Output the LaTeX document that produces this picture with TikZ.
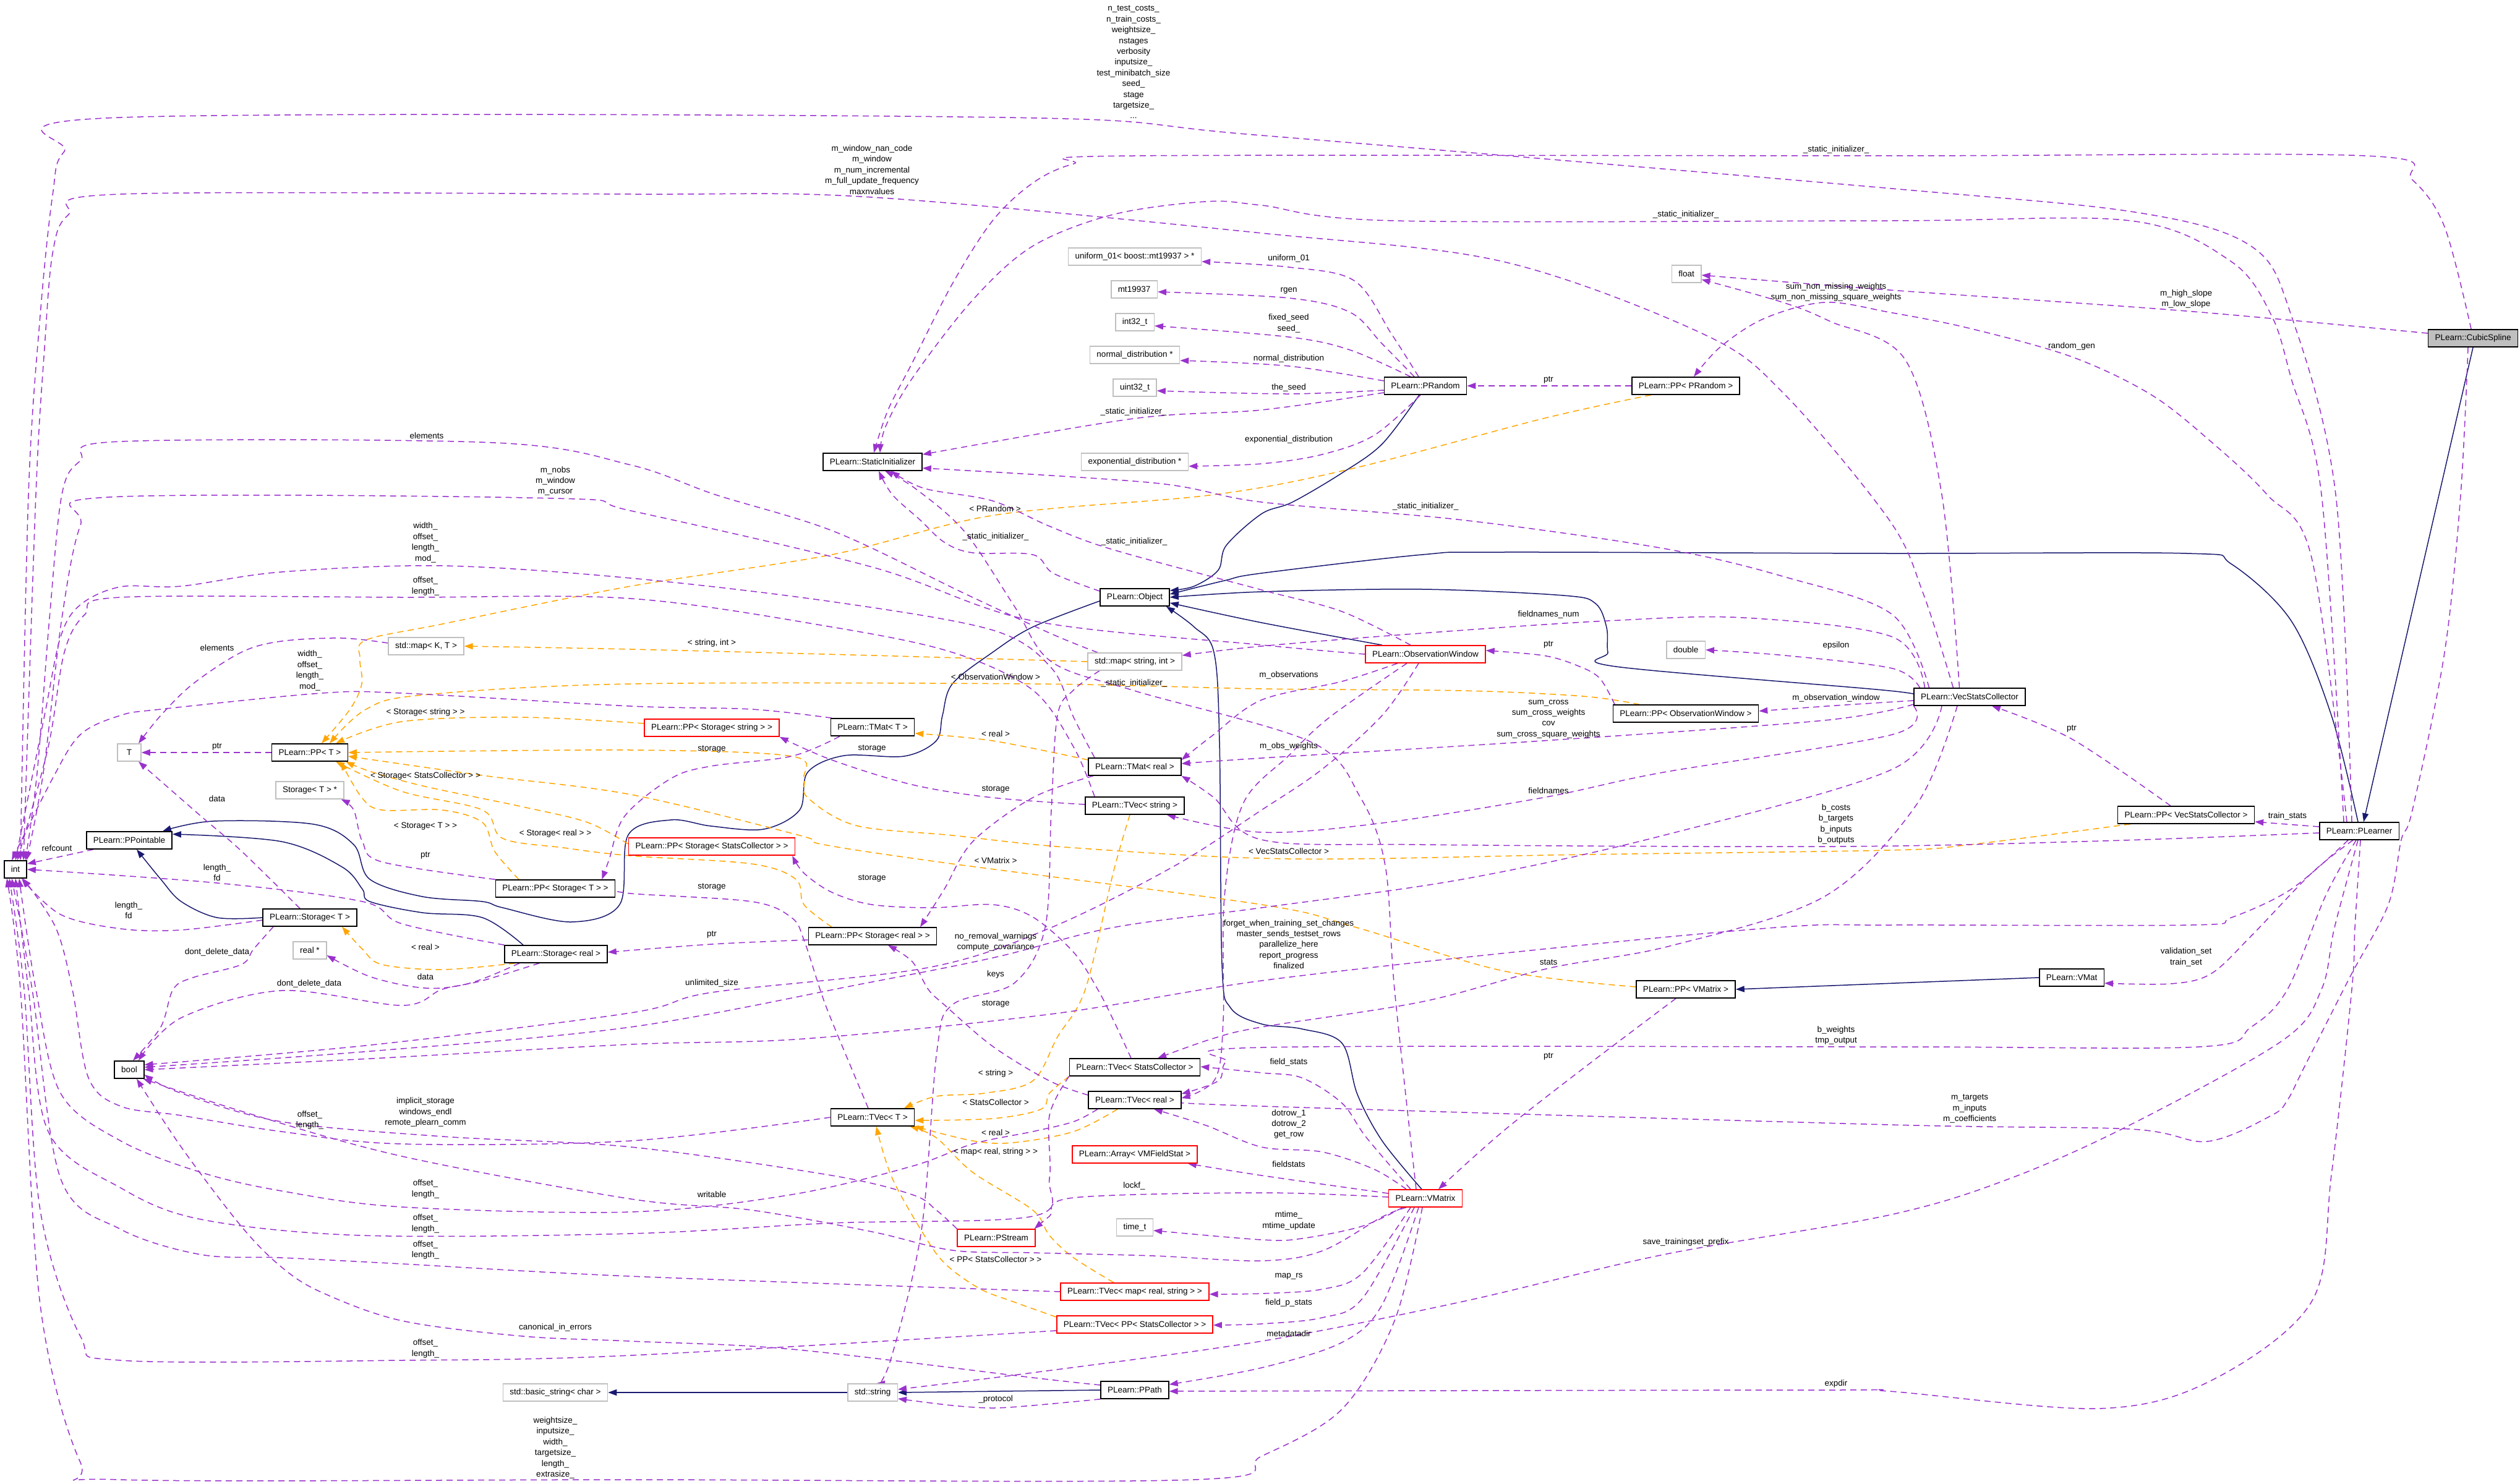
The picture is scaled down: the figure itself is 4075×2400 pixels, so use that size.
\documentclass[tikz,border=0pt]{standalone}
\usepackage{fontspec}
\setmainfont{Liberation Sans}
\usetikzlibrary{arrows.meta}
\pgfdeclarelayer{bg}
\pgfsetlayers{bg,main}
\definecolor{purp}{HTML}{9A32CD}
\definecolor{orng}{HTML}{FFA500}
\definecolor{navyb}{HTML}{191970}
\definecolor{greyb}{HTML}{BFBFBF}
\newcommand\dfont{\fontsize{13.5pt}{17.4pt}\selectfont}
\tikzset{
  cls/.style={draw=black,line width=1.5pt,fill=white,inner xsep=11pt,inner ysep=0pt,minimum height=28pt,font=\dfont},
  ext/.style={cls,draw=greyb},
  trunc/.style={cls,draw=red},
  root/.style={cls,fill=greyb},
  lbl/.style={inner sep=0pt,align=center,font=\dfont},
  mem/.style={draw=purp,line width=1.5pt,line join=round,dash pattern=on 10pt off 7pt,-{Triangle[length=14pt,width=10pt]}},
  tmpl/.style={mem,draw=orng},
  inh/.style={draw=navyb,line width=1.5pt,line join=round,-{Triangle[length=14pt,width=10pt]}},
  sm/.style={smooth,tension=0.55}
}
\begin{document}
\begin{tikzpicture}[x=1pt,y=-1pt]
\useasboundingbox (0,0) rectangle (4075,2400);
% ---------------- nodes
\node[root] (CubicSpline) at (3999,547) {PLearn::CubicSpline};
\node[cls] (PLearner) at (3815,1344) {PLearn::PLearner};
\node[ext] (float) at (2727,443) {float};
\node[cls] (PRandom) at (2305,624) {PLearn::PRandom};
\node[cls] (PPRandom) at (2726,624) {PLearn::PP< PRandom >};
\node[ext] (uniform) at (1835,415) {uniform\_01< boost::mt19937 > *};
\node[ext] (mt) at (1834,468) {mt19937};
\node[ext] (int32) at (1835,521) {int32\_t};
\node[ext] (normal) at (1835,574) {normal\_distribution *};
\node[ext] (uint32) at (1835,627) {uint32\_t};
\node[ext] (expo) at (1835,747) {exponential\_distribution *};
\node[cls] (SI) at (1411,747) {PLearn::StaticInitializer};
\node[cls] (Object) at (1835,966) {PLearn::Object};
\node[ext] (mapsi) at (1835,1070) {std::map< string, int >};
\node[trunc] (ObsWin) at (2305,1058) {PLearn::ObservationWindow};
\node[ext] (double) at (2726,1051) {double};
\node[cls] (PPObsWin) at (2726,1154) {PLearn::PP< ObservationWindow >};
\node[cls] (VSC) at (3185,1127) {PLearn::VecStatsCollector};
\node[cls] (PPVSC) at (3535,1318) {PLearn::PP< VecStatsCollector >};
\node[cls] (VMat) at (3350,1581) {PLearn::VMat};
\node[cls] (PPVMatrix) at (2726,1600) {PLearn::PP< VMatrix >};
\node[trunc] (VMatrix) at (2305,1938) {PLearn::VMatrix};
\node[cls] (TMatT) at (1411,1176) {PLearn::TMat< T >};
\node[cls] (TMatReal) at (1835,1240) {PLearn::TMat< real >};
\node[cls] (TVecString) at (1835,1303) {PLearn::TVec< string >};
\node[trunc] (PPSS) at (1151,1177) {PLearn::PP< Storage< string > >};
\node[trunc] (PPSSC) at (1151,1369) {PLearn::PP< Storage< StatsCollector > >};
\node[cls] (PPSR) at (1411,1514) {PLearn::PP< Storage< real > >};
\node[cls] (TVecSC) at (1835,1726) {PLearn::TVec< StatsCollector >};
\node[cls] (TVecReal) at (1835,1779) {PLearn::TVec< real >};
\node[cls] (TVecT) at (1411,1807) {PLearn::TVec< T >};
\node[trunc] (ArrayVMF) at (1835,1867) {PLearn::Array< VMFieldStat >};
\node[ext] (timet) at (1835,1985) {time\_t};
\node[trunc] (PStream) at (1611,2002) {PLearn::PStream};
\node[trunc] (TVecMap) at (1835,2089) {PLearn::TVec< map< real, string > >};
\node[trunc] (TVecPPSC) at (1835,2142) {PLearn::TVec< PP< StatsCollector > >};
\node[ext] (stdstring) at (1411,2252) {std::string};
\node[cls] (PPath) at (1835,2248) {PLearn::PPath};
\node[ext] (basicstring) at (898,2252) {std::basic\_string< char >};
\node[cls] (int) at (25,1406) {int};
\node[ext,minimum width=38pt] (T) at (209,1217) {T};
\node[cls] (PPT) at (501,1217) {PLearn::PP< T >};
\node[ext] (StorageTptr) at (501,1278) {Storage< T > *};
\node[cls] (PPointable) at (209,1359) {PLearn::PPointable};
\node[cls] (StorageT) at (501,1484) {PLearn::Storage< T >};
\node[ext] (realptr) at (501,1537) {real *};
\node[cls] (StorageReal) at (899,1543) {PLearn::Storage< real >};
\node[cls] (PPST) at (898,1437) {PLearn::PP< Storage< T > >};
\node[ext] (mapKT) at (689,1045) {std::map< K, T >};
\node[cls] (bool) at (209,1730) {bool};
% ---------------- labels
\node[lbl] (l1) at (1833,100.5) {n\_test\_costs\_\\n\_train\_costs\_\\weightsize\_\\nstages\\verbosity\\inputsize\_\\test\_minibatch\_size\\seed\_\\stage\\targetsize\_\\...};
\node[lbl] (l2) at (1410,274.5) {m\_window\_nan\_code\\m\_window\\m\_num\_incremental\\m\_full\_update\_frequency\\maxnvalues};
\node[lbl] (l3) at (2969,242) {\_static\_initializer\_};
\node[lbl] (l4) at (2726,347) {\_static\_initializer\_};
\node[lbl] (l5) at (2084,418) {uniform\_01};
\node[lbl] (l6) at (2084,470) {rgen};
\node[lbl] (l7) at (2084,523) {fixed\_seed\\seed\_};
\node[lbl] (l8) at (2084,580) {normal\_distribution};
\node[lbl] (l9) at (2084,627) {the\_seed};
\node[lbl] (l10) at (1833,666) {\_static\_initializer\_};
\node[lbl] (l11) at (2084,711) {exponential\_distribution};
\node[lbl] (l12) at (2504,615) {ptr};
\node[lbl] (l13) at (3535,483.5) {m\_high\_slope\\m\_low\_slope};
\node[lbl] (l14) at (2969,472.5) {sum\_non\_missing\_weights\\sum\_non\_missing\_square\_weights};
\node[lbl] (l15) at (3350,560) {random\_gen};
\node[lbl] (l16) at (690,705) {elements};
\node[lbl] (l17) at (898,778) {m\_nobs\\m\_window\\m\_cursor};
\node[lbl] (l18) at (1609,823) {< PRandom >};
\node[lbl] (l19) at (1610,868) {\_static\_initializer\_};
\node[lbl] (l20) at (1834,876) {\_static\_initializer\_};
\node[lbl] (l21) at (2305,819) {\_static\_initializer\_};
\node[lbl] (l22) at (688,877.5) {width\_\\offset\_\\length\_\\mod\_};
\node[lbl] (l23) at (688,948) {offset\_\\length\_};
\node[lbl] (l24) at (2504,994) {fieldnames\_num};
\node[lbl] (l25) at (1151,1040) {< string, int >};
\node[lbl] (l26) at (2504,1043) {ptr};
\node[lbl] (l27) at (2969,1044) {epsilon};
\node[lbl] (l28) at (351,1048) {elements};
\node[lbl] (l29) at (501,1084.5) {width\_\\offset\_\\length\_\\mod\_};
\node[lbl] (l30) at (2084,1092) {m\_observations};
\node[lbl] (l31) at (1610,1095) {< ObservationWindow >};
\node[lbl] (l32) at (1834,1105) {\_static\_initializer\_};
\node[lbl] (l33) at (2969,1129) {m\_observation\_window};
\node[lbl] (l34) at (2504,1163) {sum\_cross\\sum\_cross\_weights\\cov\\sum\_cross\_square\_weights};
\node[lbl] (l35) at (688,1152) {< Storage< string > >};
\node[lbl] (l36) at (3350,1179) {ptr};
\node[lbl] (l37) at (1610,1187) {< real >};
\node[lbl] (l38) at (2084,1207) {m\_obs\_weights};
\node[lbl] (l39) at (351,1208) {ptr};
\node[lbl] (l40) at (1151,1212) {storage};
\node[lbl] (l41) at (1410,1211) {storage};
\node[lbl] (l42) at (688,1255) {< Storage< StatsCollector > >};
\node[lbl] (l43) at (1610,1277) {storage};
\node[lbl] (l44) at (2504,1279) {fieldnames};
\node[lbl] (l45) at (351,1292) {data};
\node[lbl] (l46) at (2969,1333) {b\_costs\\b\_targets\\b\_inputs\\b\_outputs};
\node[lbl] (l47) at (3699,1320) {train\_stats};
\node[lbl] (l48) at (688,1336) {< Storage< T > >};
\node[lbl] (l49) at (898,1348) {< Storage< real > >};
\node[lbl] (l50) at (92,1372) {refcount};
\node[lbl] (l51) at (2084,1377) {< VecStatsCollector >};
\node[lbl] (l52) at (688,1384) {ptr};
\node[lbl] (l53) at (1610,1392) {< VMatrix >};
\node[lbl] (l54) at (351,1411) {length\_\\fd};
\node[lbl] (l55) at (1410,1421) {storage};
\node[lbl] (l56) at (1151,1435) {storage};
\node[lbl] (l57) at (208,1472) {length\_\\fd};
\node[lbl] (l58) at (2084,1527) {forget\_when\_training\_set\_changes\\master\_sends\_testset\_rows\\parallelize\_here\\report\_progress\\finalized};
\node[lbl] (l59) at (1151,1512) {ptr};
\node[lbl] (l60) at (1610,1523.5) {no\_removal\_warnings\\compute\_covariance};
\node[lbl] (l61) at (688,1532) {< real >};
\node[lbl] (l62) at (351,1540) {dont\_delete\_data};
\node[lbl] (l63) at (3535,1548) {validation\_set\\train\_set};
\node[lbl] (l64) at (2504,1556) {stats};
\node[lbl] (l65) at (1610,1576) {keys};
\node[lbl] (l66) at (688,1580) {data};
\node[lbl] (l67) at (1151,1590) {unlimited\_size};
\node[lbl] (l68) at (500,1591) {dont\_delete\_data};
\node[lbl] (l69) at (1610,1624) {storage};
\node[lbl] (l70) at (2969,1674.5) {b\_weights\\tmp\_output};
\node[lbl] (l71) at (2504,1709) {ptr};
\node[lbl] (l72) at (2084,1718) {field\_stats};
\node[lbl] (l73) at (1610,1736) {< string >};
\node[lbl] (l74) at (3185,1793) {m\_targets\\m\_inputs\\m\_coefficients};
\node[lbl] (l75) at (1610,1783) {< StatsCollector >};
\node[lbl] (l76) at (688,1798.5) {implicit\_storage\\windows\_endl\\remote\_plearn\_comm};
\node[lbl] (l77) at (501,1811.5) {offset\_\\length\_};
\node[lbl] (l78) at (2084,1818) {dotrow\_1\\dotrow\_2\\get\_row};
\node[lbl] (l79) at (1610,1832) {< real >};
\node[lbl] (l80) at (1610,1863) {< map< real, string > >};
\node[lbl] (l81) at (2084,1883) {fieldstats};
\node[lbl] (l82) at (688,1923) {offset\_\\length\_};
\node[lbl] (l83) at (1834,1918) {lockf\_};
\node[lbl] (l84) at (1151,1932) {writable};
\node[lbl] (l85) at (2084,1974) {mtime\_\\mtime\_update};
\node[lbl] (l86) at (688,1979) {offset\_\\length\_};
\node[lbl] (l87) at (2726,2009) {save\_trainingset\_prefix};
\node[lbl] (l88) at (688,2021.5) {offset\_\\length\_};
\node[lbl] (l89) at (1610,2037) {< PP< StatsCollector > >};
\node[lbl] (l90) at (2084,2064) {map\_rs};
\node[lbl] (l91) at (2084,2107) {field\_p\_stats};
\node[lbl] (l92) at (898,2147) {canonical\_in\_errors};
\node[lbl] (l93) at (2084,2157) {metadatadir};
\node[lbl] (l94) at (688,2181) {offset\_\\length\_};
\node[lbl] (l95) at (2969,2238) {expdir};
\node[lbl] (l96) at (1610,2263) {\_protocol};
\node[lbl] (l97) at (898,2341.5) {weightsize\_\\inputsize\_\\width\_\\targetsize\_\\length\_\\extrasize\_};
% ---------------- edges
\begin{pgfonlayer}{bg}
% inheritance
\draw[inh] (CubicSpline.south) -- ([xshift=7pt]PLearner.north);
\draw[inh] plot[sm] coordinates {([xshift=-2pt]PLearner.north) (3770,1157) (3705,1004) (3608,912) (3536,895) (3055,895) (2430,893) (2300,897) (2040,927) (1980,939) ([yshift=5pt]Object.east)};
\draw[inh] plot[sm] coordinates {(VSC.west) (3055,1117) (2613,1078) (2600,1055) (2598,1015) (2580,976) (2528,963) (2300,953) (2040,957) (Object.east)};
\draw[inh] plot[sm] coordinates {([xshift=-70pt]ObsWin.north) (2040,1007) ([yshift=-9pt]Object.east)};
\draw[inh] plot[sm] coordinates {([xshift=-10pt]PRandom.south) (2235,718) (2170,765) (2090,812) (2040,831) (1983,882) (1970,922) (1931,948) ([yshift=11pt]Object.east)};
\draw[inh] plot[sm] coordinates {([xshift=-6pt]VMatrix.north) (2235,1845) (2195,1770) (2170,1687) (2105,1664) (2040,1656) (1990,1630) (1976,1560) (1972,1200) (1963,1055) (1931,1014) ([xshift=-6pt]Object.south east)};
\draw[inh] plot[sm] coordinates {([yshift=-6pt]Object.west) (1670,1014) (1605,1055) (1540,1106) (1524,1157) (1514,1198) (1462,1223) (1365,1222) (1306,1249) (1293,1310) (1235,1341) (1150,1336) (1085,1326) (1016,1350) (1002,1463) (924,1491) (813,1468) (780,1458) (683,1450) (598,1422) (572,1366) (507,1333) (345,1328) ([xshift=-16pt]PPointable.north east)};
\draw[inh] plot[sm] coordinates {([xshift=-53pt]StorageReal.north) (780,1484) (683,1476) (598,1458) (586,1438) (553,1402) (455,1361) ([yshift=10pt]PPointable.east)};
\draw[inh] plot[sm] coordinates {(StorageT.west) (351,1484) (293,1458) (260,1422) ([xshift=12pt]PPointable.south)};
\draw[inh] (stdstring.west) -- (basicstring.east);
\draw[inh] (PPath.west) -- (stdstring.east);
\draw[inh] (VMat.west) -- (PPVMatrix.east);
% templates
\draw[tmpl] plot[sm] coordinates {([xshift=-56pt]PPRandom.south) (2495,677) (2190,757) (1963,800) (1609,833) (1345,897) (1020,948) (716,1009) (592,1035) (582,1065) (585,1106) (566,1147) ([xshift=19pt]PPT.north)};
\draw[tmpl] plot[sm] coordinates {(mapsi.west) (1410,1060) (1020,1050) (mapKT.east)};
\draw[tmpl] plot[sm] coordinates {([xshift=-75pt]PPObsWin.north) (2560,1126) (2365,1117) (2040,1114) (1670,1106) (1020,1106) (683,1124) (592,1147) ([xshift=32pt]PPT.north)};
\draw[tmpl] plot[sm] coordinates {([yshift=7pt]PPSS.west) (846,1160) (650,1167) ([xshift=42pt]PPT.north)};
\draw[tmpl] plot[sm] coordinates {([yshift=4pt]PPSSC.west) (950,1330) (846,1305) (688,1272) (600,1248) ([xshift=-4pt]PPT.south east)};
\draw[tmpl] plot[sm] coordinates {([xshift=-59pt]PPST.north) (800,1377) (780,1330) (715,1310) (618,1310) (585,1290) ([xshift=-12pt]PPT.south east)};
\draw[tmpl] plot[sm] coordinates {([xshift=-66pt]PPSR.north) (1300,1463) (1287,1422) (1215,1397) (1020,1384) (911,1371) (813,1356) (780,1310) (650,1280) ([xshift=-20pt]PPT.south east)};
\draw[tmpl] plot[sm] coordinates {([xshift=-90pt]PPVSC.south) (3185,1366) (3055,1375) (2560,1382) (2084,1389) (1735,1371) (1540,1351) (1384,1335) (1306,1290) (1300,1259) (1280,1223) (1020,1213) (PPT.east)};
\draw[tmpl] plot[sm] coordinates {([yshift=4pt]PPVMatrix.west) (2430,1570) (2190,1499) (2040,1463) (1540,1397) (1332,1366) (1293,1351) (1020,1285) (780,1254) ([yshift=-6pt]PPT.east)};
\draw[tmpl] plot[sm] coordinates {([yshift=11pt]TMatReal.west) (1605,1198) ([yshift=-10pt]TMatT.east)};
\draw[tmpl] plot[sm] coordinates {([xshift=-8pt]TVecString.south) (1800,1412) (1755,1600) (1710,1677) (1670,1748) (1592,1768) (1514,1773) ([xshift=51pt]TVecT.north)};
\draw[tmpl] plot[sm] coordinates {(TVecSC.south west) (1697,1768) (1683,1794) (1605,1809) ([yshift=-5pt]TVecT.east)};
\draw[tmpl] plot[sm] coordinates {([xshift=-28pt]TVecReal.south) (1736,1830) (1638,1848) (1573,1845) (TVecT.south east)};
\draw[tmpl] plot[sm] coordinates {([xshift=-34pt]TVecMap.north) (1736,2034) (1697,1998) (1670,1957) (1573,1896) (1514,1840) ([xshift=-8pt]TVecT.south east)};
\draw[tmpl] plot[sm] coordinates {([yshift=12pt]TVecPPSC.west) (1638,2105) (1586,2085) (1534,2049) (1501,2008) (1443,1906) ([xshift=6pt]TVecT.south)};
\draw[tmpl] plot[sm] coordinates {([xshift=-66pt]StorageReal.south) (716,1568) (618,1560) (586,1535) ([xshift=52pt]StorageT.south)};
% members
\draw[mem] plot[sm] coordinates {([xshift=-12pt]PLearner.north) (3777,800) (3705,510) (3640,398) (3458,344) (3060,305) (2040,219) (1625,190) (195,190) (104,245) (85,316) (65,510) (46,800) ([xshift=8pt]int.north)};
\draw[mem] plot[sm] coordinates {([xshift=64pt]VSC.north west) (3110,960) (3055,841) (2886,638) (2756,541) (2430,423) (2040,377) (1410,319) (1020,314) (195,314) (110,348) (85,410) (72,563) (58,800) ([xshift=13pt]int.north)};
\draw[mem] plot[sm] coordinates {([xshift=-3pt]CubicSpline.north) (3953,367) (3901,291) (3826,252) (3055,252) (1833,252) (1736,265) (1670,296) (1605,357) (1540,459) (1475,587) (1436,663) ([xshift=2pt]SI.north)};
\draw[mem] plot[sm] coordinates {([xshift=-25pt]PLearner.north) (3754,800) (3705,612) (3673,510) (3608,423) (3445,357) (3055,357) (2255,357) (2040,332) (1950,326) (1800,347) (1670,398) (1573,485) (1475,612) (1432,690) ([xshift=12pt]SI.north)};
\draw[mem] plot[sm] coordinates {([xshift=-11pt]PRandom.north) (2250,540) (2190,454) (2084,432) ([yshift=-8pt]uniform.east)};
\draw[mem] plot[sm] coordinates {([xshift=-18pt]PRandom.north) (2235,556) (2183,505) (2084,482) ([yshift=-4pt]mt.east)};
\draw[mem] plot[sm] coordinates {([xshift=-24pt]PRandom.north) (2183,566) (2084,545) ([yshift=-6pt]int32.east)};
\draw[mem] plot[sm] coordinates {([yshift=8pt]PRandom.west) (2084,592) ([yshift=-9pt]normal.east)};
\draw[mem] plot[sm] coordinates {([yshift=-7pt]PRandom.west) (2084,637) ([yshift=-5pt]uint32.east)};
\draw[mem] plot[sm] coordinates {([yshift=-11pt]PRandom.west) (2040,663) (1833,677) ([yshift=12pt]SI.east)};
\draw[mem] plot[sm] coordinates {([xshift=-8pt]PRandom.south) (2222,704) (2138,735) (2040,750) ([yshift=-7pt]expo.east)};
\draw[mem] (PPRandom.west) -- (PRandom.east);
\draw[mem] plot[sm] coordinates {([yshift=8pt]CubicSpline.west) (3535,503) (3055,469) ([yshift=-2pt]float.east)};
\draw[mem] plot[sm] coordinates {([xshift=74pt]VSC.north west) (3140,800) (3081,582) (2960,520) (2886,490) ([yshift=-9pt]float.east)};
\draw[mem] plot[sm] coordinates {([xshift=-20pt]PLearner.north) (3738,902) (3666,800) (3575,714) (3478,638) (3350,577) (3185,531) (3055,505) (2951,489) (2853,515) (2782,561) ([xshift=13pt]PPRandom.north)};
\draw[mem] plot[sm] coordinates {([yshift=10pt]Object.west) (1703,927) (1670,897) (1573,894) (1527,877) (1488,841) (1443,800) ([xshift=10pt]SI.south)};
\draw[mem] plot[sm] coordinates {([xshift=-24pt]ObsWin.north) (2170,989) (2040,954) (1800,889) (1697,851) (1605,810) (1495,790) ([xshift=30pt]SI.south)};
\draw[mem] plot[sm] coordinates {([xshift=25pt]VSC.north west) (3060,994) (2886,933) (2690,887) (2365,841) (2040,812) (1866,781) ([yshift=-10pt]SI.east)};
\draw[mem] plot[sm] coordinates {([xshift=-15pt]VMatrix.north) (2255,1600) (2240,1400) (2200,1290) (2120,1200) (1834,1117) (1700,1070) (1640,980) (1560,860) (1480,790) ([xshift=20pt]SI.south)};
\draw[mem] plot[sm] coordinates {([xshift=18pt]VSC.north west) (3060,1030) (2820,999) (2600,1004) (2300,1024) (2040,1045) ([yshift=10pt]mapsi.east)};
\draw[mem] plot[sm] coordinates {([xshift=-115pt]PPObsWin.north) (2586,1096) (2547,1075) (2495,1060) ([yshift=6pt]ObsWin.east)};
\draw[mem] plot[sm] coordinates {([xshift=10pt]VSC.north west) (3060,1081) (2886,1060) (double.east)};
\draw[mem] plot[sm] coordinates {([yshift=-6pt]VSC.west) (2969,1141) ([yshift=4pt]PPObsWin.east)};
\draw[mem] plot[sm] coordinates {([yshift=-12pt]VSC.west) (2950,1165) (2495,1198) (2040,1226) ([yshift=5pt]TMatReal.east)};
\draw[mem] plot[sm] coordinates {([xshift=-45pt]ObsWin.south) (2170,1102) (2040,1132) (1960,1190) ([yshift=11pt]TMatReal.east)};
\draw[mem] plot[sm] coordinates {([xshift=-30pt]ObsWin.south) (2150,1160) (2084,1222) (2010,1300) (1980,1450) (1978,1650) (1965,1745) ([yshift=3pt]TVecReal.east)};
\draw[mem] plot[sm] coordinates {(VSC.south west) (3060,1188) (2690,1249) (2495,1290) (2235,1331) (2040,1346) ([xshift=-29pt]TVecString.south east)};
\draw[mem] plot[sm] coordinates {([yshift=-3pt]PLearner.west) (3400,1360) (2969,1369) (2300,1366) (2040,1358) (1963,1290) (TMatReal.south east)};
\draw[mem] plot[sm] coordinates {([xshift=-25pt]PPVSC.north) (3350,1195) ([xshift=36pt]VSC.south)};
\draw[mem] ([yshift=7pt]PLearner.west) -- ([yshift=-11pt]PPVSC.east);
\draw[mem] plot[sm] coordinates {([xshift=-10pt]PLearner.south) (3738,1412) (3640,1514) (3575,1575) (3510,1591) ([yshift=-9pt]VMat.east)};
\draw[mem] plot[sm] coordinates {([xshift=-18pt]PLearner.south) (3705,1438) (3608,1484) (3543,1496) (3055,1496) (2886,1499) (2495,1535) (2040,1586) (1700,1640) (1300,1680) (1020,1689) (600,1712) (bool.east)};
\draw[mem] plot[sm] coordinates {([xshift=-45pt]VSC.south) (3060,1244) (2690,1351) (2365,1422) (2040,1468) (1800,1500) (1610,1548) (1400,1590) (1020,1661) (600,1700) ([yshift=4pt]bool.east)};
\draw[mem] plot[sm] coordinates {([xshift=-11pt]ObsWin.south) (2235,1157) (2138,1244) (2040,1310) (1900,1400) (1700,1500) (1500,1565) (1151,1605) (1020,1638) (600,1690) ([yshift=8pt]bool.east)};
\draw[mem] plot[sm] coordinates {(PStream.north west) (1514,1957) (1475,1932) (1345,1901) (1020,1855) (716,1838) (455,1814) (293,1768) ([yshift=-8pt]bool.east)};
\draw[mem] plot[sm] coordinates {([xshift=-31pt]VMatrix.south) (2235,1968) (2138,2023) (2040,2039) (1866,2031) (1670,2026) (1540,2022) (1410,1992) (1215,1957) (1020,1939) (650,1870) (400,1800) ([xshift=-2pt]bool.south east)};
\draw[mem] plot[sm] coordinates {([yshift=8pt]PPath.west) (1670,2228) (1280,2182) (1020,2169) (846,2161) (650,2136) (520,2090) (455,2049) (390,1983) (293,1855) ([xshift=12pt]bool.south)};
\draw[mem] plot[sm] coordinates {([xshift=-59pt]StorageT.south) (410,1535) (390,1560) (312,1581) (280,1600) (260,1661) ([xshift=6pt]bool.north)};
\draw[mem] plot[sm] coordinates {([xshift=-27pt]StorageReal.south) (780,1586) (715,1600) (650,1626) (455,1602) (293,1646) ([xshift=15pt]bool.north)};
\draw[mem] plot[sm] coordinates {([xshift=-59pt]StorageReal.south) (760,1590) (688,1598) (600,1580) ([yshift=-8pt]realptr.east)};
\draw[mem] plot[sm] coordinates {(StorageReal.north west) (650,1494) (586,1458) (351,1428) (int.east)};
\draw[mem] plot[sm] coordinates {([yshift=-4pt]StorageT.west) (293,1504) (195,1502) (98,1479) ([xshift=10pt]int.south)};
\draw[mem] ([xshift=12pt]PPointable.south west) -- ([yshift=9pt]int.east);
\draw[mem] (PPT.west) -- (T.east);
\draw[mem] plot[sm] coordinates {([yshift=5pt]mapKT.west) (553,1032) (455,1037) (390,1055) (312,1106) (260,1157) ([xshift=15pt]T.north)};
\draw[mem] plot[sm] coordinates {([xshift=-16pt]StorageT.north) (390,1376) (325,1320) ([xshift=15pt]T.south)};
\draw[mem] plot[sm] coordinates {(PPST.north west) (618,1394) (586,1361) (572,1310) ([xshift=-5pt]StorageTptr.south east)};
\draw[mem] plot[sm] coordinates {([yshift=-6pt]PPSR.west) (1151,1527) ([yshift=3pt]StorageReal.east)};
\draw[mem] plot[sm] coordinates {([xshift=-60pt]mapsi.north) (1700,1025) (1560,960) (1350,860) (1157,800) (1020,752) (800,716) (195,714) (130,745) (100,800) (80,1000) (60,1250) ([xshift=16pt]int.north)};
\draw[mem] plot[sm] coordinates {(ObsWin.west) (2040,1043) (1670,1004) (1410,917) (1020,826) (898,806) (176,804) (130,850) (100,1000) (70,1250) ([xshift=18pt]int.north)};
\draw[mem] plot[sm] coordinates {([xshift=-65pt]TMatReal.north) (1736,1160) (1700,1080) (1605,1019) (1345,973) (1020,935) (716,915) (455,925) (293,948) (195,949) (130,978) (98,1030) (72,1157) (int.north)};
\draw[mem] plot[sm] coordinates {([xshift=-65pt]TVecString.north) (1736,1208) (1670,1116) (1540,1055) (1345,1014) (1020,968) (650,966) (195,966) (137,994) (104,1055) (78,1208) ([xshift=3pt]int.north)};
\draw[mem] plot[sm] coordinates {([xshift=-66pt]TMatT.north) (1215,1147) (1020,1142) (650,1121) (520,1121) (260,1147) (195,1157) (130,1188) (85,1259) ([xshift=-6pt]int.north)};
\draw[mem] plot[sm] coordinates {(TVecT.west) (1020,1845) (650,1850) (455,1830) (293,1804) (195,1789) (143,1743) (117,1600) (90,1500) ([xshift=12pt]int.south)};
\draw[mem] plot[sm] coordinates {([xshift=-60pt]TVecReal.south) (1736,1814) (1670,1830) (1573,1850) (1475,1886) (1280,1932) (1020,1960) (650,1952) (455,1926) (325,1896) (195,1845) (98,1768) (58,1600) ([xshift=6pt]int.south)};
\draw[mem] plot[sm] coordinates {(TVecSC.south west) (1697,1804) (1697,1906) (1670,1967) (1345,1978) (1020,1995) (585,1998) (325,1972) (195,1921) (78,1830) (46,1600) (int.south)};
\draw[mem] plot[sm] coordinates {(TVecMap.west) (1020,2064) (650,2044) (455,2034) (325,2029) (195,1988) (98,1906) (52,1600) ([xshift=-6pt]int.south)};
\draw[mem] plot[sm] coordinates {([yshift=-10pt]TVecPPSC.west) (1020,2192) (650,2200) (195,2200) (130,2161) (65,1957) (39,1600) ([xshift=-10pt]int.south)};
\draw[mem] plot[sm] coordinates {([xshift=-5pt]VMatrix.south) (2255,2136) (2170,2279) (2040,2355) (1930,2393) (1020,2393) (195,2393) (130,2365) (65,2110) (33,1600) ([xshift=-14pt]int.south)};
\draw[mem] plot[sm] coordinates {([xshift=-24pt]VMatrix.north) (2209,1839) (2170,1784) (2105,1743) (2040,1735) ([yshift=1pt]TVecSC.east)};
\draw[mem] plot[sm] coordinates {([xshift=-31pt]VMatrix.north) (2222,1891) (2138,1863) (2040,1855) (1950,1820) ([xshift=31pt]TVecReal.south)};
\draw[mem] plot[sm] coordinates {([yshift=8pt]VMatrix.west) (2040,1901) ([xshift=-16pt]ArrayVMF.south east)};
\draw[mem] plot[sm] coordinates {([yshift=2pt]VMatrix.west) (2040,1929) (1736,1937) (1697,1967) ([xshift=-2pt]PStream.north east)};
\draw[mem] plot[sm] coordinates {([xshift=-37pt]VMatrix.south) (2203,1983) (2105,2003) (2040,2005) ([yshift=-5pt]timet.east)};
\draw[mem] plot[sm] coordinates {([xshift=-24pt]VMatrix.south) (2203,2059) (2138,2085) (2040,2092) ([yshift=-4pt]TVecMap.east)};
\draw[mem] plot[sm] coordinates {([xshift=-18pt]VMatrix.south) (2203,2100) (2138,2131) (2040,2141) ([yshift=-1pt]TVecPPSC.east)};
\draw[mem] plot[sm] coordinates {([xshift=-11pt]VMatrix.south) (2235,2110) (2170,2171) (2040,2212) ([yshift=9pt]PPath.east)};
\draw[mem] plot[sm] coordinates {([xshift=-16pt]PPVMatrix.south) (2560,1728) (2430,1830) ([xshift=21pt]VMatrix.north)};
\draw[mem] plot[sm] coordinates {([xshift=-20pt]VSC.south) (3100,1300) (2950,1450) (2700,1530) (2504,1566) (2300,1620) (2040,1661) (1960,1680) ([xshift=37pt]TVecSC.north)};
\draw[mem] plot[sm] coordinates {([xshift=-5pt]PLearner.south) (3760,1450) (3699,1600) (3640,1661) (3556,1693) (3055,1693) (2040,1694) (1983,1717) (1970,1748) ([yshift=10pt]TVecReal.east)};
\draw[mem] plot[sm] coordinates {([xshift=-8pt]CubicSpline.south) (3979,800) (3953,1055) (3901,1310) (3883,1358) (3862,1463) (3800,1580) (3725,1728) (3699,1779) (3673,1804) (3569,1846) (3445,1826) (3055,1819) (2040,1789) ([yshift=-3pt]TVecReal.east)};
\draw[mem] plot[sm] coordinates {([xshift=-2pt]PLearner.south) (3775,1500) (3754,1600) (3692,1682) (3445,1819) (3250,1906) (3055,1965) (2690,2029) (2365,2105) (2040,2169) (1670,2220) ([yshift=5pt]stdstring.east)};
\draw[mem] plot[sm] coordinates {([xshift=2pt]PLearner.south) (3808,1500) (3803,1600) (3770,1900) (3738,2105) (3575,2233) (3393,2278) (3055,2250) (2951,2248) ([yshift=-2pt]PPath.east)};
\draw[mem] plot[sm] coordinates {(PPath.south west) (1670,2273) (1605,2277) (1540,2273) ([yshift=-10pt]stdstring.east)};
\draw[mem] plot[sm] coordinates {([xshift=-57pt]mapsi.south) (1736,1116) (1710,1157) (1700,1310) (1690,1500) (1640,1590) (1540,1625) (1515,1700) (1490,1990) (1440,2200) ([xshift=6pt]stdstring.north)};
\draw[mem] plot[sm] coordinates {([yshift=2pt]TVecString.west) (1605,1290) (1475,1269) (1345,1229) (PPSS.south east)};
\draw[mem] plot[sm] coordinates {([xshift=-53pt]TMatT.south) (1280,1223) (1150,1239) (1085,1259) (1010,1320) (985,1390) ([xshift=-22pt]PPST.north east)};
\draw[mem] plot[sm] coordinates {([xshift=-7pt]TVecT.north) (1345,1651) (1326,1600) (1300,1520) (1280,1484) (1215,1458) (1020,1445) (PPST.east)};
\draw[mem] plot[sm] coordinates {([xshift=-6pt]TVecSC.north) (1801,1651) (1775,1600) (1736,1540) (1670,1483) (1605,1463) (1508,1468) (1410,1463) (1345,1443) (1300,1412) ([xshift=-5pt]PPSSC.south east)};
\draw[mem] plot[sm] coordinates {([yshift=8pt]TVecReal.west) (1697,1748) (1605,1692) (1527,1625) (1501,1600) (1475,1555) ([xshift=25pt]PPSR.south)};
\draw[mem] plot[sm] coordinates {([xshift=-67pt]TMatReal.south) (1670,1290) (1573,1361) (1527,1438) ([xshift=77pt]PPSR.north)};
\end{pgfonlayer}
\end{tikzpicture}
\end{document}
